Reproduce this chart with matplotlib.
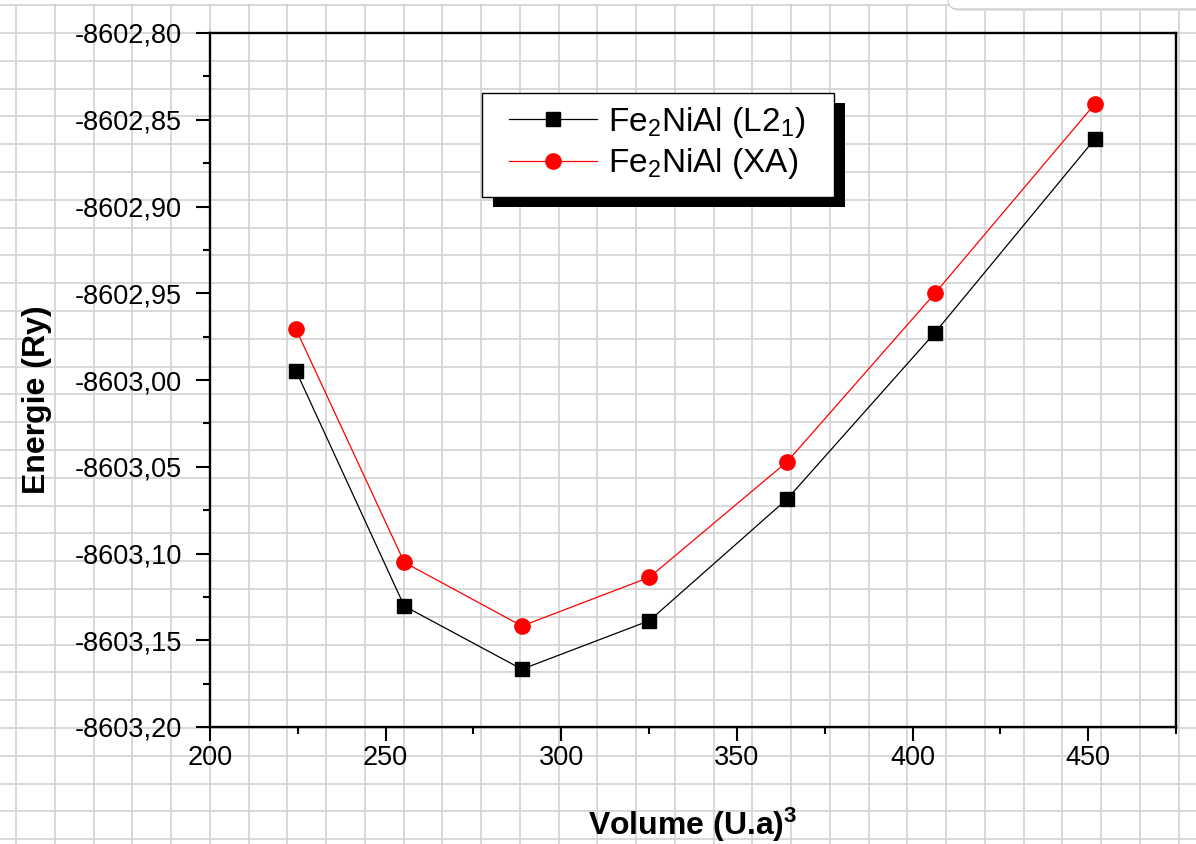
import numpy as np
import matplotlib
matplotlib.use('Agg')
import matplotlib.pyplot as plt
from matplotlib.lines import Line2D
from matplotlib.patches import Rectangle, FancyBboxPatch
from matplotlib.ticker import MultipleLocator, FuncFormatter
from matplotlib.transforms import IdentityTransform

plt.rcParams['font.family'] = ['Liberation Sans', 'DejaVu Sans']
plt.rcParams['mathtext.default'] = 'regular'

# E(V) curves for the two structures
volume = [224.5, 255.3, 288.8, 325.1, 364.3, 406.4, 451.9]
e_l21 = [-8602.9948, -8603.1303, -8603.1667, -8603.1387, -8603.0686, -8602.9727, -8602.8611]
e_xa = [-8602.9708, -8603.1051, -8603.1418, -8603.1137, -8603.0471, -8602.9500, -8602.8409]
series_labels = ['Fe$_2$NiAl (L2$_1$)', 'Fe$_2$NiAl (XA)']
x_ticks = [200, 250, 300, 350, 400, 450]
y_ticks = [-8603.20, -8603.15, -8603.10, -8603.05, -8603.00, -8602.95, -8602.90, -8602.85, -8602.80]

W, H = 1196, 844
fig = plt.figure(figsize=(W / 100, H / 100), dpi=100)
px = IdentityTransform()


def Y(py):
    # pixel row (top origin) -> display y
    return H - py


# worksheet cells in the background
grid_kw = dict(color='#d2d2d2', lw=1.2, transform=px, zorder=-2)
for gx in np.arange(16, W, 38.75):
    fig.add_artist(Line2D([gx, gx], [Y(5), Y(H)], **grid_kw))
for gy in np.arange(5.2, H, 27.8):
    fig.add_artist(Line2D([0, W], [Y(gy), Y(gy)], **grid_kw))

# popup edge at the top right
fig.add_artist(FancyBboxPatch((950, Y(11)), 300, 40, boxstyle='round,pad=0,rounding_size=9',
                              transform=px, facecolor='#e4e4e4', edgecolor='none', zorder=-1))
fig.add_artist(FancyBboxPatch((948, Y(9)), 300, 40, boxstyle='round,pad=0,rounding_size=9',
                              transform=px, facecolor='white', edgecolor='#c4c4c4', lw=0.8, zorder=-1))

ax = fig.add_axes([210 / W, (H - 727) / H, (1176 - 210) / W, (727 - 33) / H])
ax.patch.set_facecolor('none')

ax.plot(volume, e_l21, color='black', lw=0.9, marker='s', ms=9.6,
        mfc='black', mec='black', label=series_labels[0])
ax.plot(volume, e_xa, color='red', lw=0.9, marker='o', ms=11,
        mfc='red', mec='red', label=series_labels[1])

ax.set_xlim(200, 475)
ax.set_ylim(-8603.20, -8602.80)
ax.set_xticks(x_ticks)
ax.set_yticks(y_ticks)
ax.xaxis.set_minor_locator(MultipleLocator(25))
ax.yaxis.set_minor_locator(MultipleLocator(0.025))
ax.yaxis.set_major_formatter(FuncFormatter(lambda v, p: f'{v:.2f}'.replace('.', ',')))

for s in ax.spines.values():
    s.set_linewidth(1.7)
ax.tick_params(which='major', direction='out', length=10, width=1.5, labelsize=19.5)
ax.tick_params(which='minor', direction='out', length=5, width=1.5)
ax.tick_params(axis='x', which='major', pad=3)
ax.tick_params(axis='y', which='major', pad=10)

ax.set_xlabel('Volume (U.a)$^3$', fontsize=23, fontweight='bold')
ax.xaxis.set_label_coords(0.5, (727 - 806) / 694)
ax.set_ylabel('Energie (Ry)', fontsize=23, fontweight='bold')
ax.yaxis.set_label_coords((52 - 210) / 966, (727 - 400) / 694)

# legend box with a solid drop shadow
ax.add_patch(Rectangle((493.3, Y(207.3)), 351.7, 104, transform=px, facecolor='black',
                       edgecolor='none', clip_on=False, zorder=4.8))
ax.add_patch(Rectangle((482.3, Y(196.7)), 352, 104, transform=px, facecolor='white',
                       edgecolor='black', lw=1.0, clip_on=False, zorder=4.9))
leg = ax.legend(loc='center left', bbox_to_anchor=(509, Y((120 + 165.7) / 2)),
                bbox_transform=px, frameon=False, fontsize=24, borderpad=0,
                borderaxespad=0, handlelength=2.64, handletextpad=0.33,
                labelspacing=0.2, numpoints=1)
leg.set_zorder(5)

fig.savefig('out.png', dpi=100)
